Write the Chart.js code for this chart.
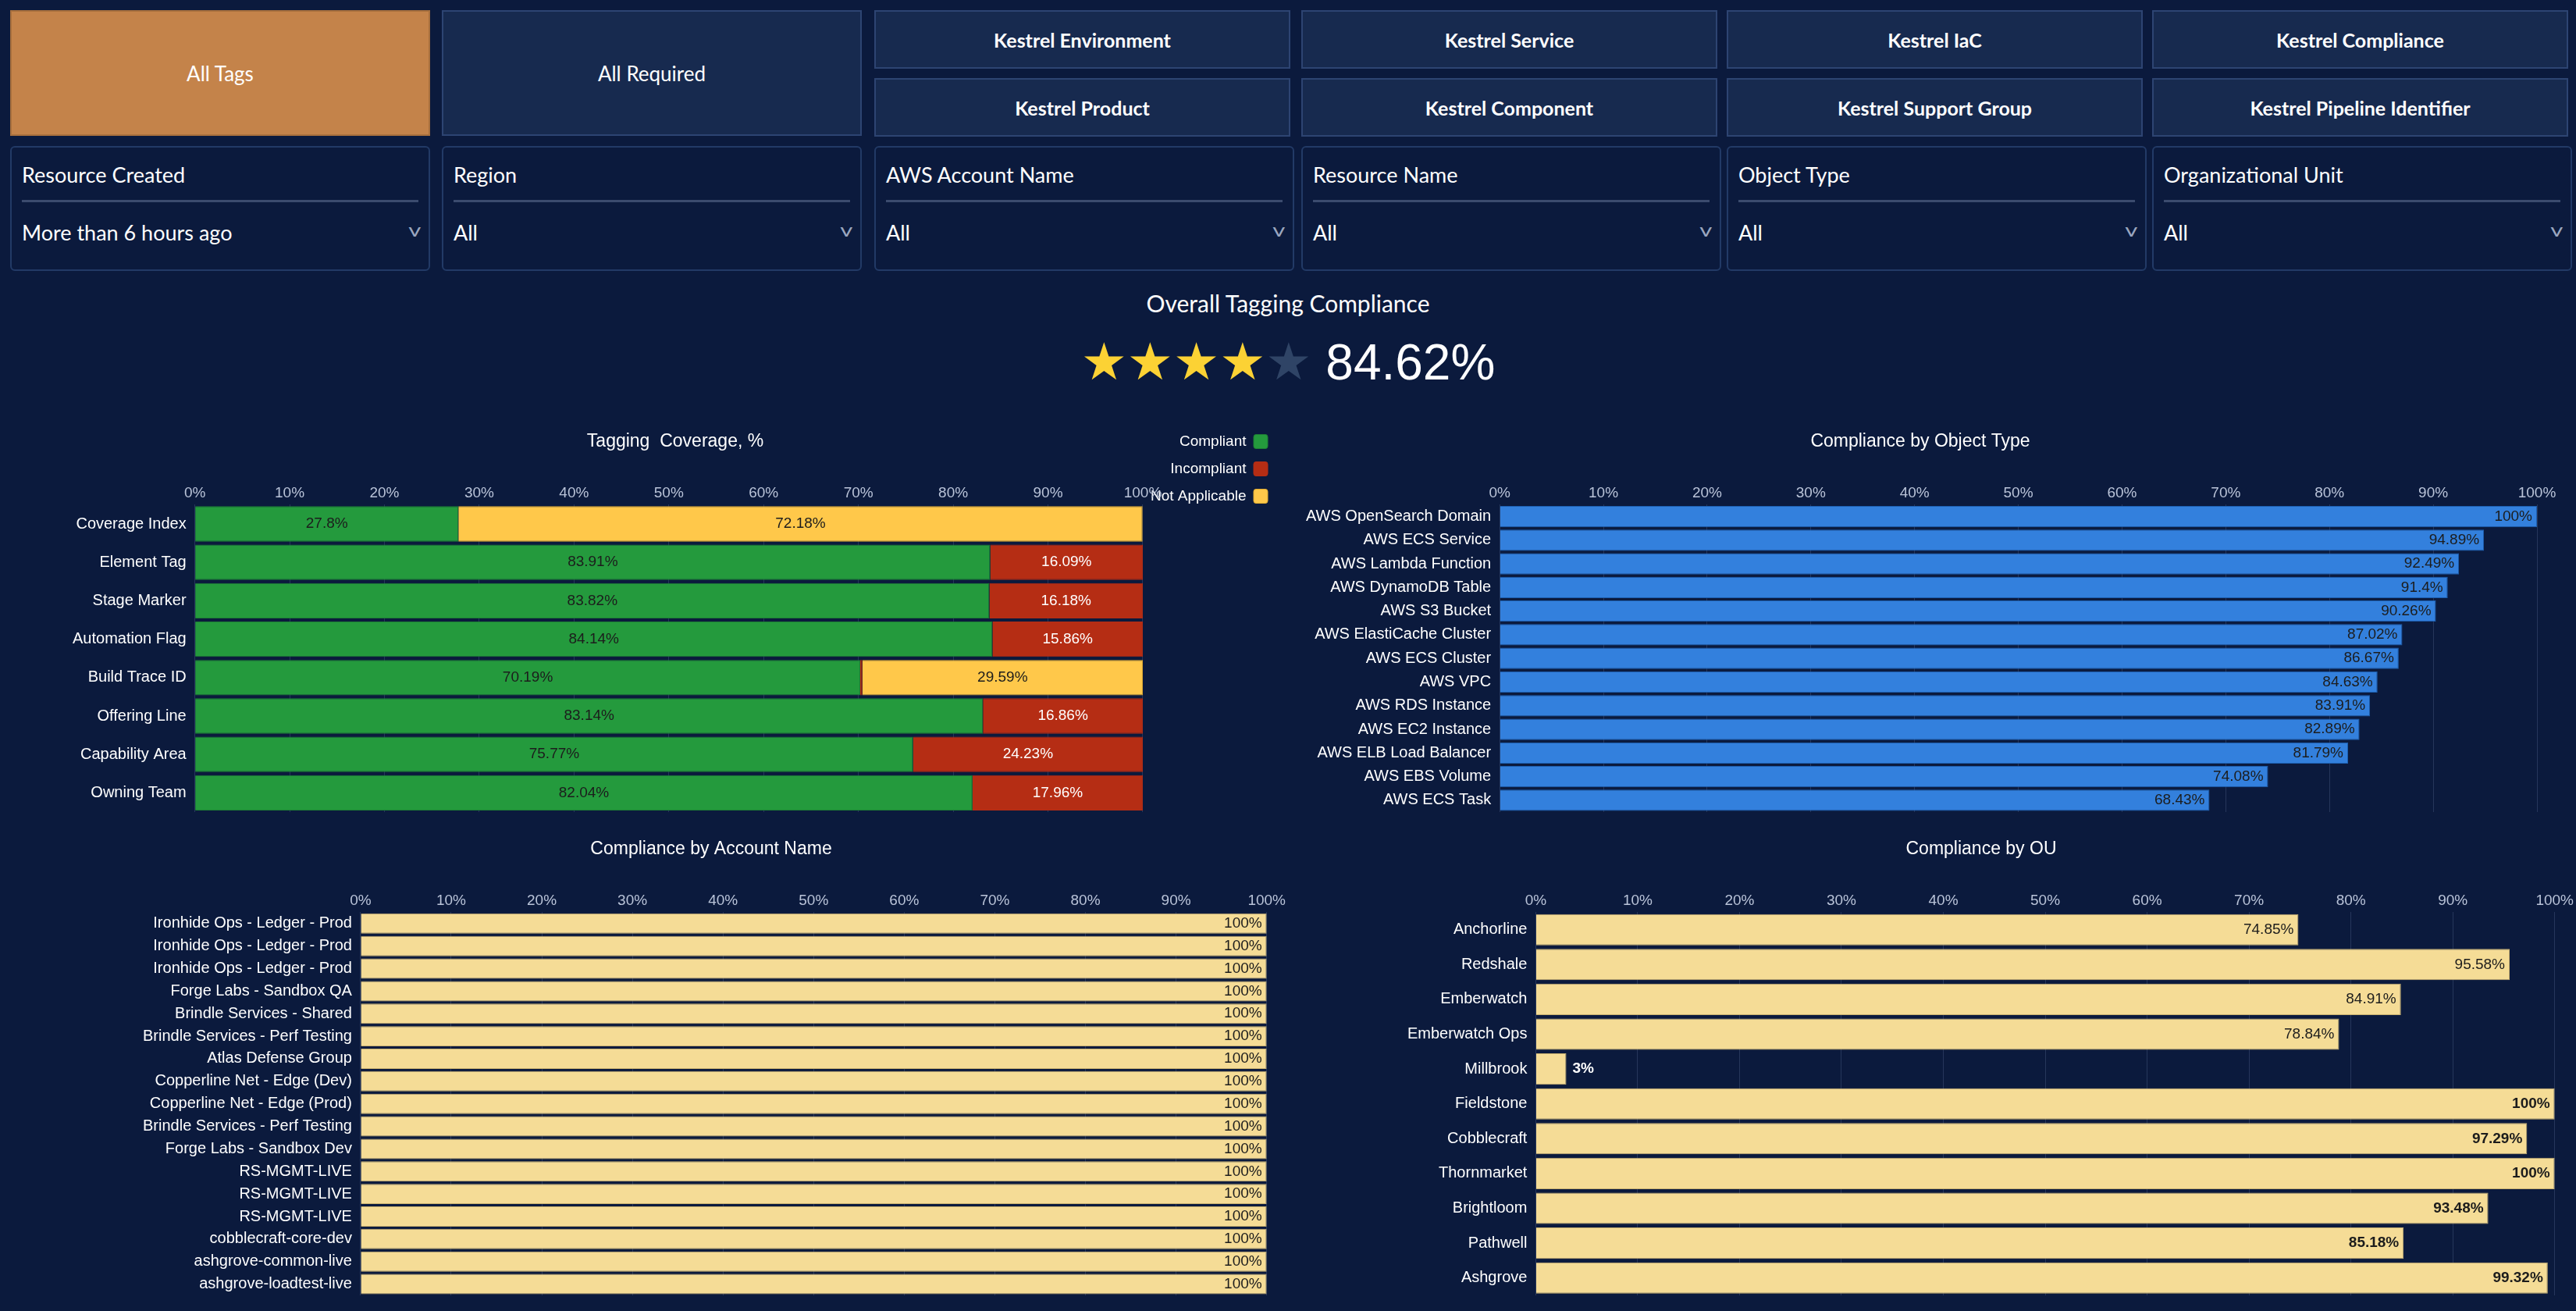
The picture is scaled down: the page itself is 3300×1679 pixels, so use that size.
<!DOCTYPE html>
<html>
<head>
<meta charset="utf-8">
<script src="https://cdn.jsdelivr.net/npm/chart.js@4.4.0/dist/chart.umd.min.js"></script>
<style>
  body { margin: 0; background: #0b1a3d; width: 3300px; height: 1679px; overflow: hidden; font-family: Lato, "Open Sans", sans-serif; color: #fff; }
  .tile { position: absolute; background: #172a4f; border: 2px solid #2d4472; box-sizing: border-box; display: flex; align-items: center; justify-content: center; font-size: 26px; }
  .tile.small { font-weight: bold; font-size: 25px; }
  .tile.active { background: #c4834a; border-color: #a8703e; }
  .dd { position: absolute; top: 187px; height: 160px; width: 538px; border: 2px solid #223a66; border-radius: 6px; box-sizing: border-box; }
  .dd .lbl { position: absolute; left: 13px; top: 18px; font-size: 27px; }
  .dd .line { position: absolute; left: 13px; right: 13px; top: 67px; border-top: 3px solid #3b4b6e; }
  .dd .val { position: absolute; left: 13px; top: 92px; font-size: 27px; }
  .dd .chev { position: absolute; right: 12px; top: 90px; font-size: 24px; color: #9aa6bf; transform: scaleX(1.3); }
  .box { position: absolute; }
  #overall { position: absolute; top: 370px; width: 3300px; text-align: center; font-size: 30px; }
  #score { position: absolute; top: 425px; width: 3300px; text-align: center; font-size: 64px; font-family: "Liberation Sans", sans-serif; }
  #score .on { color: #fcd234; font-family: "DejaVu Sans"; font-size: 66px; letter-spacing: 0px; }
  #score .off { color: #2f4466; font-family: "DejaVu Sans"; font-size: 66px; }
</style>
</head>
<body>
<div id="tiles"></div>
<div id="dds"></div>
<div id="overall">Overall Tagging Compliance</div>
<div id="score"></div>
<div class="box" style="left:0;top:540px;width:1650px;height:515px"><canvas id="c1"></canvas></div>
<div class="box" style="left:1650px;top:540px;width:1650px;height:515px"><canvas id="c2"></canvas></div>
<div class="box" style="left:0;top:1062px;width:1650px;height:612px"><canvas id="c3"></canvas></div>
<div class="box" style="left:1650px;top:1062px;width:1650px;height:612px"><canvas id="c4"></canvas></div>
<script>
// filter tiles and dropdowns
const tileCols = [13, 566, 1120, 1667, 2212, 2757];
const tagTiles = [
  ['Kestrel Environment', 'Kestrel Product'],
  ['Kestrel Service', 'Kestrel Component'],
  ['Kestrel IaC', 'Kestrel Support Group'],
  ['Kestrel Compliance', 'Kestrel Pipeline Identifier']
];
const dropdowns = [
  ['Resource Created', 'More than 6 hours ago'],
  ['Region', 'All'],
  ['AWS Account Name', 'All'],
  ['Resource Name', 'All'],
  ['Object Type', 'All'],
  ['Organizational Unit', 'All']
];
const overallScore = 84.62;

// Tagging coverage
const coverageCategories = ['Coverage Index', 'Element Tag', 'Stage Marker', 'Automation Flag', 'Build Trace ID', 'Offering Line', 'Capability Area', 'Owning Team'];
const compliant = [27.8, 83.91, 83.82, 84.14, 70.19, 83.14, 75.77, 82.04];
const incompliant = [0, 16.09, 16.18, 15.86, 0.22, 16.86, 24.23, 17.96];
const notApplicable = [72.18, 0, 0, 0, 29.59, 0, 0, 0];

// by object type
const objectTypes = ['AWS OpenSearch Domain', 'AWS ECS Service', 'AWS Lambda Function', 'AWS DynamoDB Table', 'AWS S3 Bucket', 'AWS ElastiCache Cluster', 'AWS ECS Cluster', 'AWS VPC', 'AWS RDS Instance', 'AWS EC2 Instance', 'AWS ELB Load Balancer', 'AWS EBS Volume', 'AWS ECS Task'];
const objectTypeValues = [100, 94.89, 92.49, 91.4, 90.26, 87.02, 86.67, 84.63, 83.91, 82.89, 81.79, 74.08, 68.43];

// by account name
const accountNames = ['Ironhide Ops - Ledger - Prod', 'Ironhide Ops - Ledger - Prod', 'Ironhide Ops - Ledger - Prod', 'Forge Labs - Sandbox QA', 'Brindle Services - Shared', 'Brindle Services - Perf Testing', 'Atlas Defense Group', 'Copperline Net - Edge (Dev)', 'Copperline Net - Edge (Prod)', 'Brindle Services - Perf Testing', 'Forge Labs - Sandbox Dev', 'RS-MGMT-LIVE', 'RS-MGMT-LIVE', 'RS-MGMT-LIVE', 'cobblecraft-core-dev', 'ashgrove-common-live', 'ashgrove-loadtest-live'];
const accountValues = [100, 100, 100, 100, 100, 100, 100, 100, 100, 100, 100, 100, 100, 100, 100, 100, 100];

// by OU
const ouNames = ['Anchorline', 'Redshale', 'Emberwatch', 'Emberwatch Ops', 'Millbrook', 'Fieldstone', 'Cobblecraft', 'Thornmarket', 'Brightloom', 'Pathwell', 'Ashgrove'];
const ouValues = [74.85, 95.58, 84.91, 78.84, 3, 100, 97.29, 100, 93.48, 85.18, 99.32];

let html = '';
html += `<div class="tile active" style="left:${tileCols[0]}px;top:13px;width:538px;height:161px">All Tags</div>`;
html += `<div class="tile" style="left:${tileCols[1]}px;top:13px;width:538px;height:161px">All Required</div>`;
tagTiles.forEach((pair, i) => {
  html += `<div class="tile small" style="left:${tileCols[i + 2]}px;top:13px;width:533px;height:75px">${pair[0]}</div>`;
  html += `<div class="tile small" style="left:${tileCols[i + 2]}px;top:100px;width:533px;height:75px">${pair[1]}</div>`;
});
document.getElementById('tiles').innerHTML = html;
document.getElementById('dds').innerHTML = dropdowns.map((d, i) => `
  <div class="dd" style="left:${tileCols[i]}px"><div class="lbl">${d[0]}</div><div class="line"></div>
  <div class="val">${d[1]}</div><div class="chev">v</div></div>`).join('');
const full = Math.floor(overallScore / 20);
document.getElementById('score').innerHTML =
  `<span class="on">${'★'.repeat(full)}</span><span class="off">${'★'.repeat(5 - full)}</span> ${overallScore}%`;

Chart.defaults.font.family = '"Liberation Sans", Arial, sans-serif';
Chart.defaults.font.size = 20;
Chart.defaults.color = '#c9d1e2';
Chart.defaults.devicePixelRatio = 1;
Chart.defaults.animation = false;

const valueLabels = {
  id: 'valueLabels',
  afterDatasetsDraw(chart, args, opts) {
    const ctx = chart.ctx;
    ctx.save();
    ctx.font = '19px "Liberation Sans", Arial, sans-serif';
    ctx.textBaseline = 'middle';
    chart.data.datasets.forEach((ds, i) => {
      const meta = chart.getDatasetMeta(i);
      meta.data.forEach((bar, j) => {
        const v = ds.data[j];
        if (!v || v < 1) return;
        const txt = v + '%';
        if (opts.mode === 'center') {
          ctx.textAlign = 'center';
          ctx.fillStyle = ds.labelColor || '#1c1c1c';
          ctx.fillText(txt, (bar.x + bar.base) / 2, bar.y);
        } else if (bar.x - bar.base < 80) {
          ctx.textAlign = 'left';
          ctx.fillStyle = '#ffffff';
          ctx.font = 'bold 19px "Liberation Sans", Arial, sans-serif';
          ctx.fillText(txt, bar.x + 8, bar.y);
        } else {
          ctx.textAlign = 'right';
          ctx.fillStyle = '#1c1c1c';
          ctx.fillText(txt, bar.x - 6, bar.y);
        }
      });
    });
    ctx.restore();
  }
};

function xScale() {
  return {
    position: 'top', min: 0, max: 100, stacked: true,
    ticks: { stepSize: 10, callback: v => v + '%', color: '#b9c3d8', font: { size: 19 } },
    grid: { color: 'rgba(90,110,150,0.35)', drawTicks: false },
    border: { display: false }
  };
}
function yScale() {
  return {
    stacked: true,
    ticks: { color: '#ffffff', font: { size: 20 } },
    grid: { display: false }, border: { display: false }
  };
}
function title(text) {
  return { display: true, text: text, color: '#ffffff', font: { size: 23, weight: 'normal' }, padding: { top: 12, bottom: 38 } };
}

new Chart(document.getElementById('c1'), {
  type: 'bar',
  data: {
    labels: coverageCategories,
    datasets: [
      { label: 'Compliant', data: compliant, backgroundColor: '#249a3d', borderColor: '#1e7e34', borderWidth: 1 },
      { label: 'Incompliant', data: incompliant, backgroundColor: '#b52d14', borderColor: '#b52d14', borderWidth: 1, labelColor: '#ffffff' },
      { label: 'Not Applicable', data: notApplicable, backgroundColor: '#ffc84a', borderColor: '#e0aa30', borderWidth: 1 }
    ]
  },
  options: {
    indexAxis: 'y', responsive: true, maintainAspectRatio: false,
    layout: { padding: { left: 90, right: 10, bottom: 0 } },
    barPercentage: 0.92, categoryPercentage: 1,
    scales: { x: xScale(), y: yScale() },
    plugins: {
      title: title('Tagging  Coverage, %'),
      legend: { position: 'right', align: 'start', rtl: true,
        labels: { color: '#ffffff', boxWidth: 18, boxHeight: 18, useBorderRadius: true, borderRadius: 3, font: { size: 19 }, padding: 16 } },
      tooltip: { enabled: false },
      valueLabels: { mode: 'center' }
    }
  },
  plugins: [valueLabels]
});

function simpleBar(id, labels, values, color, border, titleText, pad) {
  new Chart(document.getElementById(id), {
    type: 'bar',
    data: { labels: labels, datasets: [{ data: values, backgroundColor: color, borderColor: border, borderWidth: 1 }] },
    options: {
      indexAxis: 'y', responsive: true, maintainAspectRatio: false,
      layout: { padding: pad },
      barPercentage: 0.9, categoryPercentage: 1,
      scales: { x: xScale(), y: yScale() },
      plugins: { title: title(titleText), legend: { display: false }, tooltip: { enabled: false }, valueLabels: { mode: 'end' } }
    },
    plugins: [valueLabels]
  });
}
simpleBar('c2', objectTypes, objectTypeValues, '#3380dd', '#1d5fb0', 'Compliance by Object Type', { left: 20, right: 50, bottom: 0 });
simpleBar('c3', accountNames, accountValues, '#f5dc96', '#c8b070', 'Compliance by Account Name', { left: 180, right: 8, bottom: 8 });
simpleBar('c4', ouNames, ouValues, '#f5dc96', '#c8b070', 'Compliance by OU', { left: 150, right: 24, bottom: 8 });
</script>
</body>
</html>
